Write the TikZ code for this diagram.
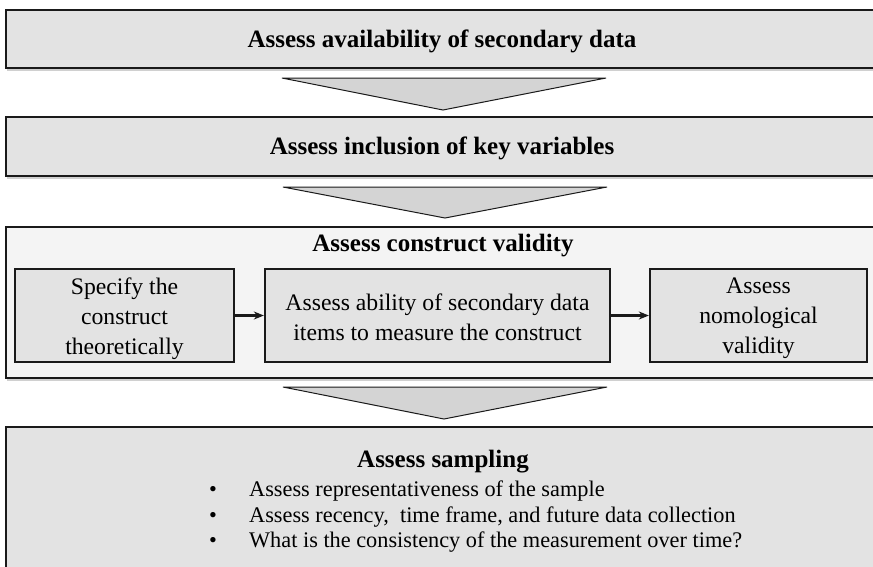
\documentclass[tikz,border=0pt]{standalone}
\usepackage{fontspec}
\setmainfont{Liberation Serif}
\usetikzlibrary{arrows.meta,shadows}
\definecolor{boxgray}{HTML}{E3E3E3}
\definecolor{panelgray}{HTML}{F4F4F4}
\definecolor{chevgray}{HTML}{D4D4D4}
\definecolor{edge}{HTML}{1A1A1A}
\tikzset{
  stage/.style={draw=edge, line width=2.8pt, fill=boxgray, inner sep=0pt,
    drop shadow={shadow xshift=1pt, shadow yshift=-2.5pt, opacity=0.3, fill=black!60}},
  panel/.style={stage, fill=panelgray},
  substep/.style={draw=edge, line width=2.3pt, fill=boxgray, inner sep=0pt,
    minimum height=93pt},
  subtext/.style={inner sep=0pt, align=center, font=\fontsize{23.7}{30}\selectfont},
  title/.style={font=\fontsize{25}{29}\selectfont\bfseries, inner sep=0pt},
  chevron/.style={draw=edge, line width=1pt, fill=chevgray},
  link/.style={draw=edge, line width=2.2pt, -{Stealth[length=10pt,width=8pt]}},
}
\begin{document}
\begin{tikzpicture}[x=1pt,y=-1pt]
\useasboundingbox (0,0) rectangle (873,566);
\clip (0,0) rectangle (873,566);
\fill[white] (0,0) rectangle (873,566);

% stage 1
\node[stage, minimum width=872pt, minimum height=58pt] (s1) at (442,39) {};
\node[title] (s1t) at (442,41) {Assess availability of secondary data};

% chevron 1
\coordinate (c1a) at (282,78);
\coordinate (c1b) at (606,78);
\coordinate (c1c) at (443,110);
\draw[chevron] (c1a) -- (c1b) -- (c1c) -- cycle;

% stage 2
\node[stage, minimum width=872pt, minimum height=59pt] (s2) at (442,146.5) {};
\node[title] (s2t) at (442,148) {Assess inclusion of key variables};

% chevron 2
\coordinate (c2a) at (283,187);
\coordinate (c2b) at (607,187);
\coordinate (c2c) at (445,218);
\draw[chevron] (c2a) -- (c2b) -- (c2c) -- cycle;

% stage 3: construct validity panel
\node[panel, minimum width=872pt, minimum height=151pt] (s3) at (442,302.5) {};
\node[title] (s3t) at (443,246) {Assess construct validity};
\node[substep, minimum width=219pt] (k1) at (124.5,315.5) {};
\node[substep, minimum width=345pt] (k2) at (437.5,315.5) {};
\node[substep, minimum width=217pt] (k3) at (758.5,315.5) {};
\node[subtext] (k1t) at (124.5,318.5) {Specify the\\construct\\theoretically};
\node[subtext] (k2t) at (437.5,317) {Assess ability of secondary data\\items to measure the construct};
\node[subtext] (k3t) at (758.5,318.5) {Assess\\nomological\\validity};
\draw[link] (k1) -- (k2);
\draw[link] (k2) -- (k3);

% chevron 3
\coordinate (c3a) at (283,387);
\coordinate (c3b) at (607,387);
\coordinate (c3c) at (444,419);
\draw[chevron] (c3a) -- (c3b) -- (c3c) -- cycle;

% stage 4: sampling
\node[stage, minimum width=872pt, minimum height=190pt] (s4) at (442,522) {};
\node[title] (s4t) at (443,462) {Assess sampling};
\node[anchor=north west, inner sep=0pt, align=left,
  font=\fontsize{22.3}{25.5}\selectfont] (s4l) at (209,481) {%
  \makebox[40pt][l]{\textbullet}Assess representativeness of the sample\\
  \makebox[40pt][l]{\textbullet}Assess recency,\ \ time frame, and future data collection\\
  \makebox[40pt][l]{\textbullet}What is the consistency of the measurement over time?};
\end{tikzpicture}
\end{document}
